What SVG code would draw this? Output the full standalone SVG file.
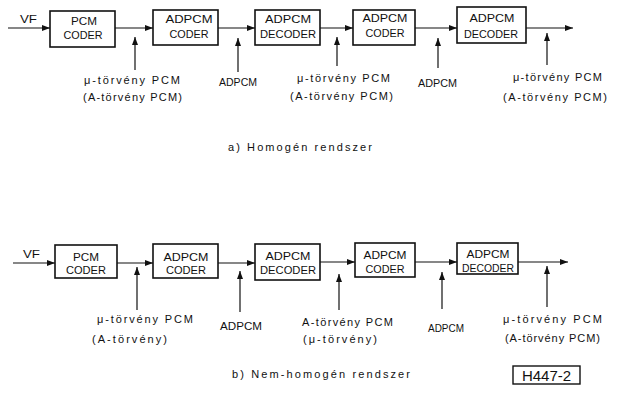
<svg xmlns="http://www.w3.org/2000/svg" width="618" height="402" viewBox="0 0 618 402">
<defs>
<marker id="ah" viewBox="0 0 8 6" refX="8" refY="3" markerWidth="8" markerHeight="6" markerUnits="userSpaceOnUse" orient="auto">
<path d="M0,0 L8,3 L0,6 Z" fill="#111"/>
</marker>
</defs>
<style>
.box{fill:#fff;stroke:#111;stroke-width:1.6}
.bt{font-family:"Liberation Sans",Arial,sans-serif;font-size:11.5px;fill:#111;text-anchor:middle}
.lb{font-family:"Liberation Sans",Arial,sans-serif;font-size:11px;fill:#111}
.cap{font-family:"Liberation Sans",Arial,sans-serif;font-size:11px;fill:#111}
.ar{stroke:#111;stroke-width:1.2;fill:none;marker-end:url(#ah)}
</style>
<rect width="618" height="402" fill="#fff"/>

<g id="connectors">
<line class="ar" x1="8" y1="28" x2="50" y2="28"/>
<line class="ar" x1="115" y1="28" x2="153" y2="28"/>
<line class="ar" x1="218" y1="28" x2="255" y2="28"/>
<line class="ar" x1="320" y1="28" x2="353" y2="28"/>
<line class="ar" x1="415" y1="28" x2="457" y2="28"/>
<line class="ar" x1="526" y1="28" x2="573" y2="28"/>
<line class="ar" x1="135" y1="70" x2="135" y2="37"/>
<line class="ar" x1="238" y1="72" x2="238" y2="38"/>
<line class="ar" x1="337" y1="66" x2="337" y2="37"/>
<line class="ar" x1="438" y1="68" x2="438" y2="38"/>
<line class="ar" x1="547" y1="65" x2="547" y2="33"/>
<line class="ar" x1="13" y1="263" x2="55" y2="263"/>
<line class="ar" x1="117" y1="263" x2="153" y2="263"/>
<line class="ar" x1="218" y1="263" x2="255" y2="263"/>
<line class="ar" x1="320" y1="262" x2="355" y2="262"/>
<line class="ar" x1="415" y1="262" x2="457" y2="262"/>
<line class="ar" x1="518" y1="262" x2="568" y2="262"/>
<line class="ar" x1="137" y1="310" x2="137" y2="267"/>
<line class="ar" x1="240" y1="312" x2="240" y2="271"/>
<line class="ar" x1="339" y1="310" x2="339" y2="274"/>
<line class="ar" x1="442" y1="309" x2="442" y2="272"/>
<line class="ar" x1="547" y1="307" x2="547" y2="266"/>
</g>

<g id="a_pcm_coder">
<rect class="box" x="50" y="11" width="65" height="36"/>
<text class="bt" x="84" y="25" textLength="26" lengthAdjust="spacingAndGlyphs">PCM</text>
<text class="bt" x="83" y="39" textLength="39" lengthAdjust="spacingAndGlyphs">CODER</text>
</g>
<g id="a_adpcm_coder1">
<rect class="box" x="153" y="10" width="65" height="35"/>
<text class="bt" x="189" y="23" textLength="47" lengthAdjust="spacingAndGlyphs">ADPCM</text>
<text class="bt" x="189" y="38" textLength="39" lengthAdjust="spacingAndGlyphs">CODER</text>
</g>
<g id="a_adpcm_decoder1">
<rect class="box" x="255" y="10" width="65" height="35"/>
<text class="bt" x="288" y="23" textLength="46" lengthAdjust="spacingAndGlyphs">ADPCM</text>
<text class="bt" x="288" y="38" textLength="56" lengthAdjust="spacingAndGlyphs">DECODER</text>
</g>
<g id="a_adpcm_coder2">
<rect class="box" x="353" y="10" width="62" height="35"/>
<text class="bt" x="385" y="22" textLength="45" lengthAdjust="spacingAndGlyphs">ADPCM</text>
<text class="bt" x="385" y="37" textLength="39" lengthAdjust="spacingAndGlyphs">CODER</text>
</g>
<g id="a_adpcm_decoder2">
<rect class="box" x="457" y="7" width="69" height="36"/>
<text class="bt" x="492" y="22" textLength="45" lengthAdjust="spacingAndGlyphs">ADPCM</text>
<text class="bt" x="491" y="38" textLength="54" lengthAdjust="spacingAndGlyphs">DECODER</text>
</g>

<g id="b_pcm_coder">
<rect class="box" x="55" y="245" width="62" height="33"/>
<text class="bt" x="86" y="261" textLength="26" lengthAdjust="spacingAndGlyphs">PCM</text>
<text class="bt" x="86" y="274" textLength="40" lengthAdjust="spacingAndGlyphs">CODER</text>
</g>
<g id="b_adpcm_coder1">
<rect class="box" x="153" y="244" width="65" height="34"/>
<text class="bt" x="186" y="261" textLength="45" lengthAdjust="spacingAndGlyphs">ADPCM</text>
<text class="bt" x="186" y="274" textLength="40" lengthAdjust="spacingAndGlyphs">CODER</text>
</g>
<g id="b_adpcm_decoder1">
<rect class="box" x="255" y="244" width="65" height="36"/>
<text class="bt" x="288" y="260" textLength="45" lengthAdjust="spacingAndGlyphs">ADPCM</text>
<text class="bt" x="288" y="274" textLength="56" lengthAdjust="spacingAndGlyphs">DECODER</text>
</g>
<g id="b_adpcm_coder2">
<rect class="box" x="355" y="243" width="60" height="34"/>
<text class="bt" x="385" y="259" textLength="43" lengthAdjust="spacingAndGlyphs">ADPCM</text>
<text class="bt" x="385" y="273" textLength="39" lengthAdjust="spacingAndGlyphs">CODER</text>
</g>
<g id="b_adpcm_decoder2">
<rect class="box" x="457" y="243" width="61" height="31"/>
<text class="bt" x="488" y="258" textLength="43" lengthAdjust="spacingAndGlyphs">ADPCM</text>
<text class="bt" x="488" y="272" textLength="52" lengthAdjust="spacingAndGlyphs">DECODER</text>
</g>

<g id="labels_a">
<text class="lb" x="20" y="23" textLength="17" lengthAdjust="spacingAndGlyphs">VF</text>
<text class="lb" x="84" y="84" textLength="96" lengthAdjust="spacing">μ-törvény PCM</text>
<text class="lb" x="83" y="101" textLength="99" lengthAdjust="spacing">(A-törvény PCM)</text>
<text class="lb" x="219" y="86" textLength="38" lengthAdjust="spacingAndGlyphs">ADPCM</text>
<text class="lb" x="297" y="82" textLength="93" lengthAdjust="spacing">μ-törvény PCM</text>
<text class="lb" x="290" y="100" textLength="103" lengthAdjust="spacing">(A-törvény PCM)</text>
<text class="lb" x="418" y="87" textLength="39" lengthAdjust="spacingAndGlyphs">ADPCM</text>
<text class="lb" x="513" y="81" textLength="89" lengthAdjust="spacing">μ-törvény PCM</text>
<text class="lb" x="503" y="101" textLength="104" lengthAdjust="spacing">(A-törvény PCM)</text>
<text class="cap" x="228" y="151" textLength="144" lengthAdjust="spacing">a) Homogén rendszer</text>
</g>

<g id="labels_b">
<text class="lb" x="23" y="258" textLength="17" lengthAdjust="spacingAndGlyphs">VF</text>
<text class="lb" x="97" y="323" textLength="96" lengthAdjust="spacing">μ-törvény PCM</text>
<text class="lb" x="92" y="343" textLength="75" lengthAdjust="spacing">(A-törvény)</text>
<text class="lb" x="220" y="330" textLength="42" lengthAdjust="spacingAndGlyphs">ADPCM</text>
<text class="lb" x="302" y="326" textLength="91" lengthAdjust="spacing">A-törvény PCM</text>
<text class="lb" x="303" y="343" textLength="74" lengthAdjust="spacing">(μ-törvény)</text>
<text class="lb" x="428" y="332" textLength="36" lengthAdjust="spacingAndGlyphs">ADPCM</text>
<text class="lb" x="503" y="323" textLength="99" lengthAdjust="spacing">μ-törvény PCM</text>
<text class="lb" x="505" y="342" textLength="95" lengthAdjust="spacing">(A-törvény PCM)</text>
<text class="cap" x="232" y="378" textLength="178" lengthAdjust="spacing">b) Nem-homogén rendszer</text>
</g>

<g id="figure_id">
<rect x="513" y="366" width="67" height="18" fill="none" stroke="#111" stroke-width="1.4"/>
<text x="546.5" y="381" font-family="'Liberation Sans',Arial,sans-serif" font-size="15" text-anchor="middle" fill="#111">H447-2</text>
</g>
</svg>
